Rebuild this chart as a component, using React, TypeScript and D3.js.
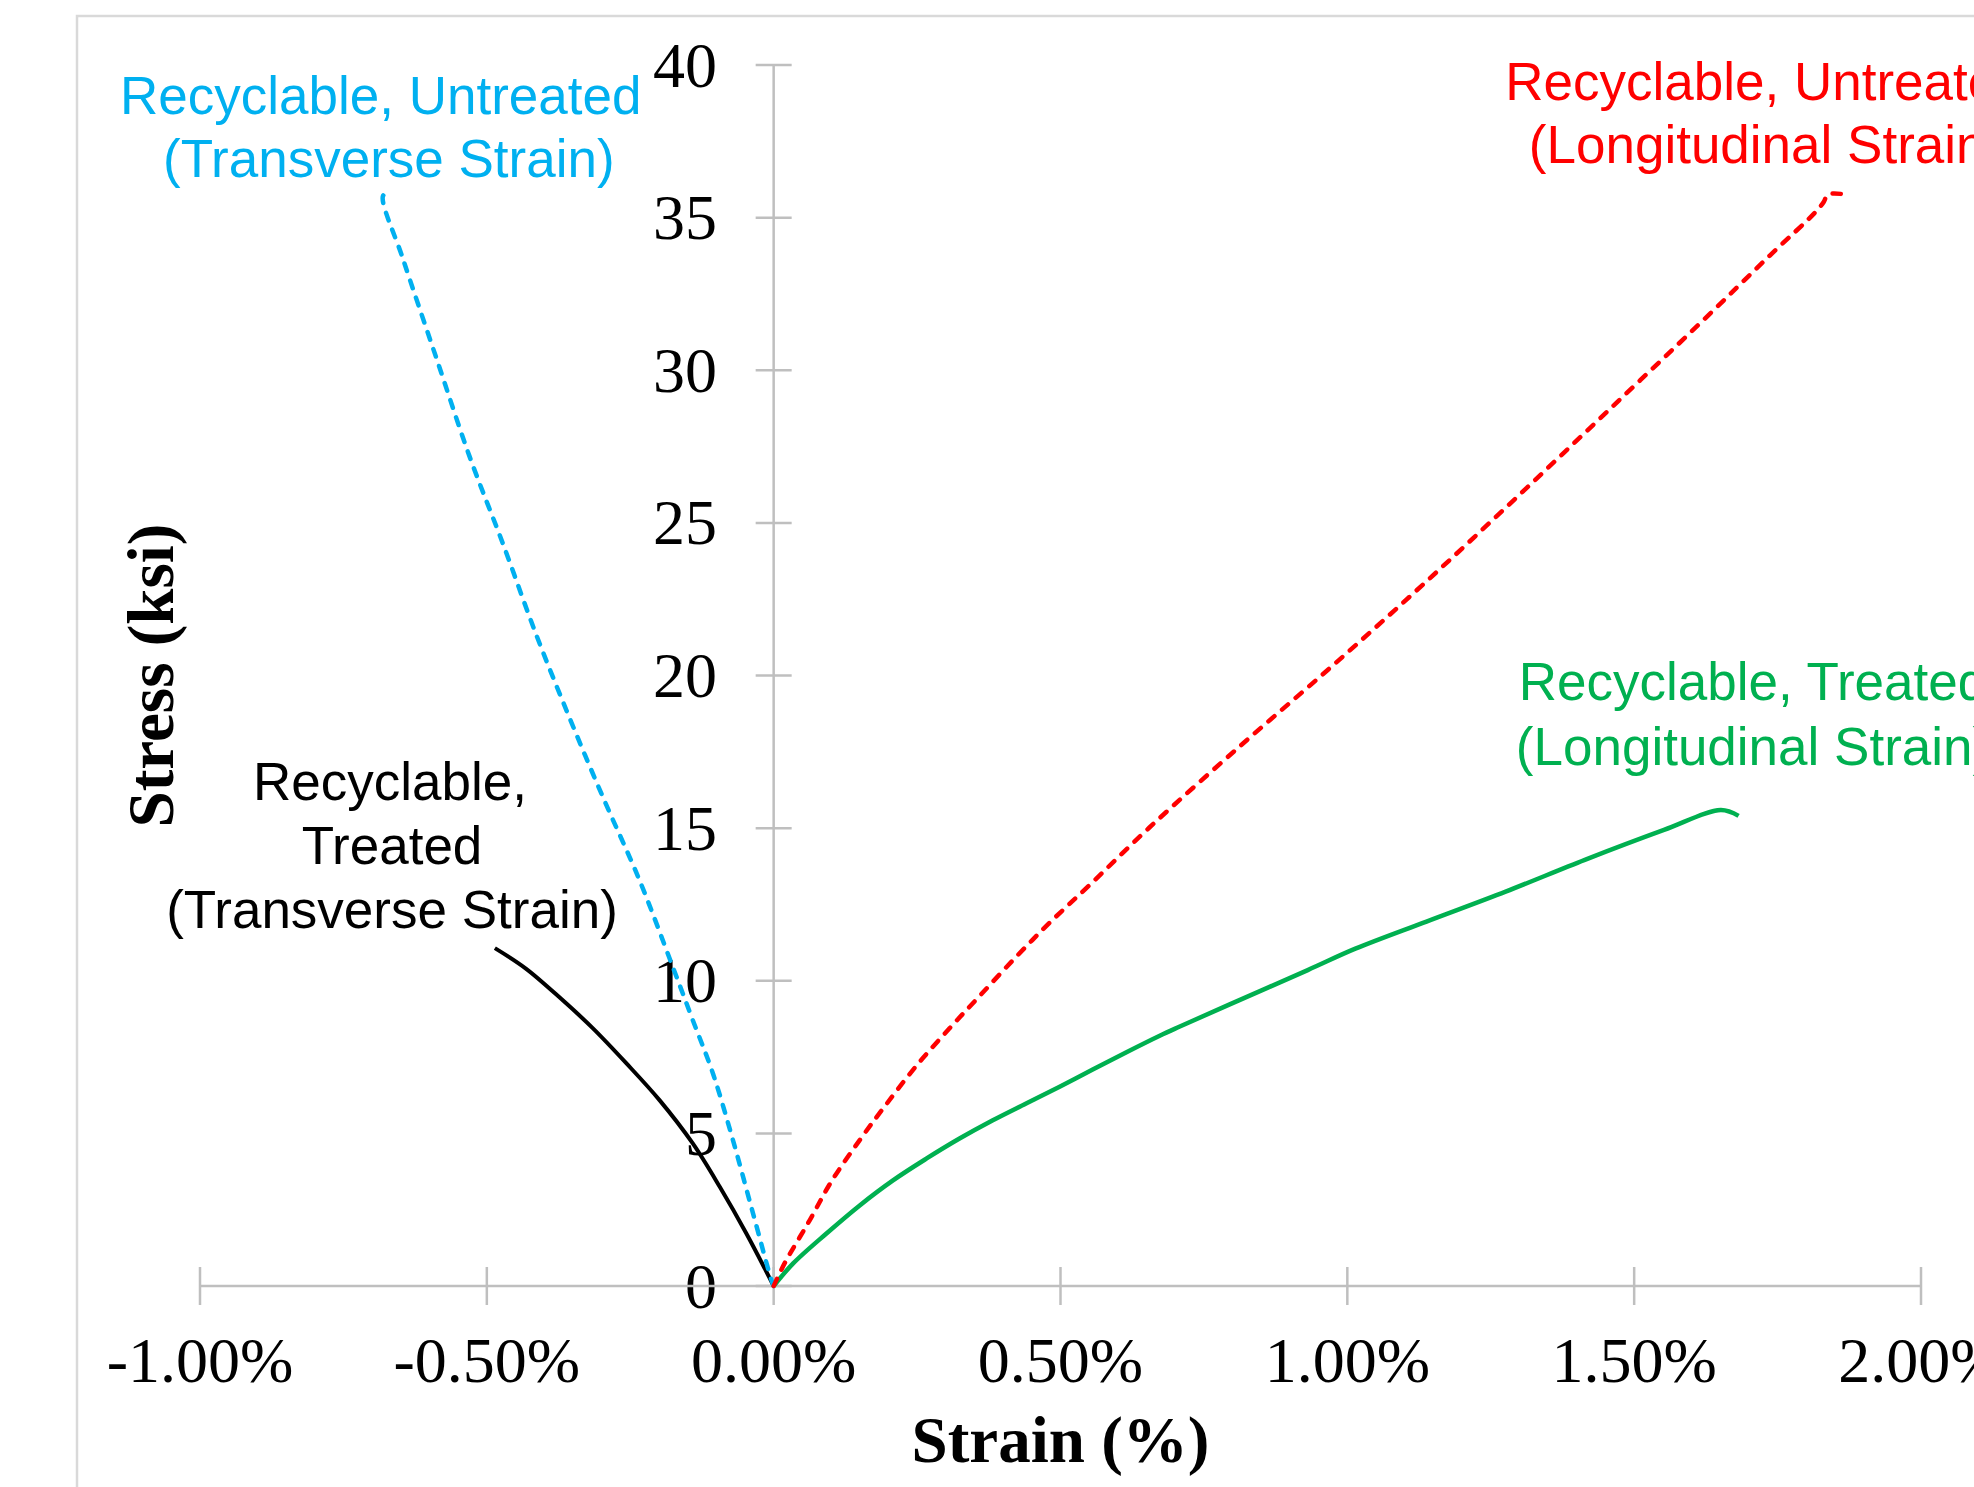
import React from "react";
import * as d3 from "d3";

// [strain (%), stress (ksi)]
const untreatedTransverse: [number, number][] = [
  [0, 0], [-0.004, 0.2], [-0.036, 2.38], [-0.071, 4.78], [-0.106, 6.97], [-0.141, 8.71],
  [-0.176, 10.46], [-0.234, 13.3], [-0.298, 16.03], [-0.356, 18.62], [-0.414, 21.34],
  [-0.472, 24.32], [-0.53, 27.17], [-0.588, 30.4], [-0.646, 33.64], [-0.681, 35.71], [-0.672, 35.8],
];
const treatedTransverse: [number, number][] = [
  [0, 0], [-0.0476, 1.72], [-0.094, 3.25], [-0.141, 4.67], [-0.199, 6.09], [-0.257, 7.3],
  [-0.315, 8.44], [-0.37, 9.4], [-0.432, 10.4], [-0.486, 11.07],
];
const untreatedLongitudinal: [number, number][] = [
  [0, 0], [0.019, 0.74], [0.063, 2.16], [0.1005, 3.42], [0.15, 4.78], [0.193, 5.87], [0.249, 7.22],
  [0.307, 8.45], [0.359, 9.5], [0.423, 10.79], [0.481, 11.9], [0.551, 13.14], [0.655, 15.02],
  [0.815, 17.72], [0.976, 20.35], [1.136, 23.05], [1.296, 25.85], [1.456, 28.7], [1.616, 31.56],
  [1.736, 33.75], [1.816, 35.18], [1.83, 35.5], [1.838, 35.76], [1.868, 35.76],
];
const treatedLongitudinal: [number, number][] = [
  [0, 0], [0.034, 0.74], [0.092, 1.72], [0.15, 2.64], [0.208, 3.46], [0.266, 4.17], [0.324, 4.83],
  [0.382, 5.43], [0.44, 5.98], [0.4985, 6.53], [0.557, 7.1], [0.615, 7.66], [0.673, 8.2],
  [0.708, 8.5], [0.793, 9.21], [0.931, 10.35], [1.014, 11.05], [1.138, 11.94], [1.276, 12.92],
  [1.414, 13.96], [1.552, 14.94], [1.651, 15.59], [1.682, 15.4],
];

const xTicks = [-1, -0.5, 0, 0.5, 1, 1.5, 2];
const yTicks = [0, 5, 10, 15, 20, 25, 30, 35, 40];
const xTitle = "Strain (%)";
const yTitle = "Stress (ksi)";

const W = 1974;
const H = 1487;

export default function App() {
  const x = d3.scaleLinear().domain([-1, 2]).range([200, 1921]);
  const y = d3.scaleLinear().domain([0, 40]).range([1286, 65]);
  const line = d3
    .line<[number, number]>()
    .x((d) => x(d[0]))
    .y((d) => y(d[1]))
    .curve(d3.curveCatmullRom.alpha(0.5));

  const axisColor = "#bfbfbf";
  const serif = "'Liberation Serif', 'Times New Roman', serif";
  const sans = "'Liberation Sans', Arial, sans-serif";
  const fmt = (v: number) => v.toFixed(2) + "%";

  return (
    <svg
      width={W}
      height={H}
      style={{ position: "absolute", left: 0, top: 0, background: "#fff" }}
    >
      <rect x={0} y={0} width={W} height={H} fill="#fff" />
      <rect x={77} y={16} width={2200} height={2200} fill="none" stroke="#d9d9d9" strokeWidth={2.5} />

      {/* y axis */}
      <line x1={x(0)} x2={x(0)} y1={y(0)} y2={y(40)} stroke={axisColor} strokeWidth={2.5} />
      {yTicks.map((t) => (
        <g key={"y" + t}>
          <line x1={x(0) - 18} x2={x(0) + 18} y1={y(t)} y2={y(t)} stroke={axisColor} strokeWidth={2.5} />
          <text x={717} y={y(t) + 21.5} textAnchor="end" fontFamily={serif} fontSize={64} fill="#000">
            {t}
          </text>
        </g>
      ))}

      {/* x axis */}
      <line x1={x(-1)} x2={x(2)} y1={y(0)} y2={y(0)} stroke={axisColor} strokeWidth={2.5} />
      {xTicks.map((t) => (
        <g key={"x" + t}>
          <line x1={x(t)} x2={x(t)} y1={y(0) - 19} y2={y(0) + 19} stroke={axisColor} strokeWidth={2.5} />
          <text x={x(t)} y={1382} textAnchor="middle" fontFamily={serif} fontSize={64} fill="#000">
            {fmt(t)}
          </text>
        </g>
      ))}

      <text x={x(0.5)} y={1462} textAnchor="middle" fontFamily={serif} fontWeight="bold" fontSize={65} fill="#000">
        {xTitle}
      </text>
      <text
        transform={`translate(173, ${y(20)}) rotate(-90)`}
        textAnchor="middle"
        fontFamily={serif}
        fontWeight="bold"
        fontSize={65}
        fill="#000"
      >
        {yTitle}
      </text>

      {/* series */}
      <path d={line(treatedTransverse) || ""} fill="none" stroke="#000" strokeWidth={4} />
      <path d={line(treatedLongitudinal) || ""} fill="none" stroke="#00b050" strokeWidth={4.5} />
      <path
        d={line(untreatedTransverse) || ""}
        fill="none"
        stroke="#00b0f0"
        strokeWidth={4.5}
        strokeDasharray="8,10"
        strokeLinecap="round"
      />
      <path
        d={line(untreatedLongitudinal) || ""}
        fill="none"
        stroke="#ff0000"
        strokeWidth={4.5}
        strokeDasharray="8,10"
        strokeLinecap="round"
      />

      {/* annotations */}
      <g fontFamily={sans} fontSize={53}>
        <text x={120} y={114} fill="#00b0f0">Recyclable, Untreated</text>
        <text x={163} y={177} fill="#00b0f0">(Transverse Strain)</text>

        <text x={1766} y={100} fill="#ff0000" textAnchor="middle">Recyclable, Untreated</text>
        <text x={1766} y={163} fill="#ff0000" textAnchor="middle">(Longitudinal Strain)</text>

        <text x={1753} y={700} fill="#00b050" textAnchor="middle">Recyclable, Treated</text>
        <text x={1753} y={765} fill="#00b050" textAnchor="middle">(Longitudinal Strain)</text>

        <text x={390} y={800} fill="#000" textAnchor="middle">Recyclable,</text>
        <text x={392} y={864} fill="#000" textAnchor="middle">Treated</text>
        <text x={392} y={928} fill="#000" textAnchor="middle">(Transverse Strain)</text>
      </g>
    </svg>
  );
}
